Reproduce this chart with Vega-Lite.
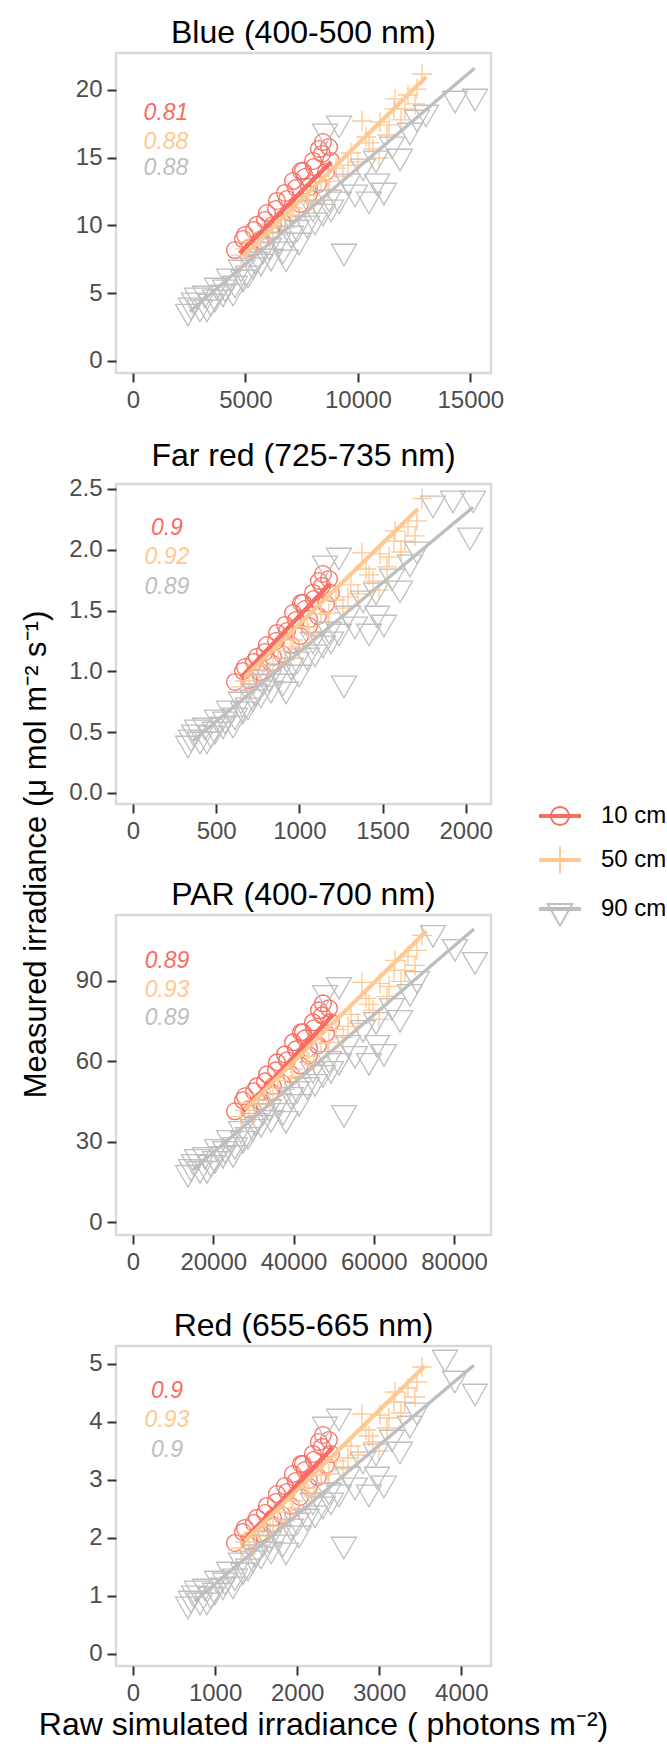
{
"$schema": "https://vega.github.io/schema/vega-lite/v6.json",
"background": "white",
"padding": {"left": 18, "top": 15, "right": 0, "bottom": 0},
"bounds": "flush",
"spacing": 111,
"resolve": {"scale": {"x": "independent", "y": "independent"}, "axis": {"x": "independent", "y": "independent"}},
"config": {
  "view": {"stroke": "#D9D9D9", "strokeWidth": 2.4},
  "font": "Liberation Sans",
  "axis": {"grid": false, "domain": false, "tickColor": "#333333", "tickWidth": 2, "tickSize": 9, "labelFontSize": 24, "labelColor": "#4D4D4D", "labelFont": "Liberation Sans", "labelFlush": false, "labelOverlap": false, "titleFont": "Liberation Sans", "titleFontSize": 31, "titleFontWeight": "normal", "titleColor": "black"},
  "axisX": {"labelPadding": 6},
  "axisY": {"labelPadding": 5},
  "title": {"fontSize": 32, "fontWeight": "normal", "font": "Liberation Sans", "color": "black", "baseline": "alphabetic", "offset": 3.5, "anchor": "middle"}
},
"datasets": {
"pts": [
{"p":"B","g":"10 cm","x":4536,"y":8.19},{"p":"B","g":"10 cm","x":4892,"y":9.00},{"p":"B","g":"10 cm","x":5159,"y":8.34},{"p":"B","g":"10 cm","x":5381,"y":9.67},{"p":"B","g":"10 cm","x":5648,"y":8.93},{"p":"B","g":"10 cm","x":5870,"y":10.41},{"p":"B","g":"10 cm","x":6137,"y":9.59},{"p":"B","g":"10 cm","x":6359,"y":11.22},{"p":"B","g":"10 cm","x":6626,"y":10.26},{"p":"B","g":"10 cm","x":6848,"y":11.96},{"p":"B","g":"10 cm","x":7026,"y":10.92},{"p":"B","g":"10 cm","x":7249,"y":12.77},{"p":"B","g":"10 cm","x":7427,"y":11.59},{"p":"B","g":"10 cm","x":7649,"y":13.58},{"p":"B","g":"10 cm","x":7827,"y":12.32},{"p":"B","g":"10 cm","x":8049,"y":14.32},{"p":"B","g":"10 cm","x":8227,"y":13.06},{"p":"B","g":"10 cm","x":8405,"y":15.28},{"p":"B","g":"10 cm","x":8583,"y":13.95},{"p":"B","g":"10 cm","x":8449,"y":16.16},{"p":"B","g":"10 cm","x":8805,"y":14.76},{"p":"B","g":"10 cm","x":7471,"y":14.02},
{"p":"B","g":"10 cm","x":4981,"y":9.30},{"p":"B","g":"10 cm","x":5514,"y":10.04},{"p":"B","g":"10 cm","x":5959,"y":10.92},{"p":"B","g":"10 cm","x":6404,"y":11.81},{"p":"B","g":"10 cm","x":6759,"y":12.40},{"p":"B","g":"10 cm","x":7115,"y":13.28},{"p":"B","g":"10 cm","x":7560,"y":14.02},{"p":"B","g":"10 cm","x":8005,"y":14.76},{"p":"B","g":"10 cm","x":8271,"y":15.65},{"p":"B","g":"10 cm","x":8716,"y":15.79},{"p":"B","g":"10 cm","x":6226,"y":10.04},{"p":"B","g":"10 cm","x":7827,"y":12.84},
{"p":"B","g":"50 cm","x":4803,"y":7.82},{"p":"B","g":"50 cm","x":5159,"y":8.78},{"p":"B","g":"50 cm","x":5425,"y":8.04},{"p":"B","g":"50 cm","x":5781,"y":9.45},{"p":"B","g":"50 cm","x":6092,"y":9.00},{"p":"B","g":"50 cm","x":6448,"y":10.48},{"p":"B","g":"50 cm","x":6759,"y":9.82},{"p":"B","g":"50 cm","x":7115,"y":11.29},{"p":"B","g":"50 cm","x":7382,"y":10.63},{"p":"B","g":"50 cm","x":7738,"y":12.25},{"p":"B","g":"50 cm","x":8049,"y":11.66},{"p":"B","g":"50 cm","x":8360,"y":13.21},{"p":"B","g":"50 cm","x":8672,"y":12.62},{"p":"B","g":"50 cm","x":9027,"y":14.24},{"p":"B","g":"50 cm","x":9339,"y":13.65},{"p":"B","g":"50 cm","x":9694,"y":15.35},{"p":"B","g":"50 cm","x":10006,"y":14.69},{"p":"B","g":"50 cm","x":10362,"y":16.53},{"p":"B","g":"50 cm","x":10673,"y":15.65},{"p":"B","g":"50 cm","x":10984,"y":17.64},{"p":"B","g":"50 cm","x":11295,"y":16.68},{"p":"B","g":"50 cm","x":11607,"y":18.60},{"p":"B","g":"50 cm","x":11918,"y":17.79},{"p":"B","g":"50 cm","x":12229,"y":19.63},{"p":"B","g":"50 cm","x":12541,"y":18.97},{"p":"B","g":"50 cm","x":12852,"y":21.18},{"p":"B","g":"50 cm","x":10940,"y":14.98},{"p":"B","g":"50 cm","x":10184,"y":17.71},
{"p":"B","g":"50 cm","x":4981,"y":8.27},{"p":"B","g":"50 cm","x":5603,"y":8.71},{"p":"B","g":"50 cm","x":6226,"y":9.45},{"p":"B","g":"50 cm","x":7026,"y":10.77},{"p":"B","g":"50 cm","x":7827,"y":11.81},{"p":"B","g":"50 cm","x":8716,"y":13.28},{"p":"B","g":"50 cm","x":9561,"y":14.46},{"p":"B","g":"50 cm","x":10495,"y":16.09},{"p":"B","g":"50 cm","x":11384,"y":17.42},{"p":"B","g":"50 cm","x":12096,"y":18.60},{"p":"B","g":"50 cm","x":12629,"y":20.07},{"p":"B","g":"50 cm","x":11651,"y":19.34},
{"p":"B","g":"90 cm","x":2446,"y":3.39},{"p":"B","g":"90 cm","x":2713,"y":4.21},{"p":"B","g":"90 cm","x":2979,"y":3.69},{"p":"B","g":"90 cm","x":3202,"y":4.72},{"p":"B","g":"90 cm","x":3469,"y":4.13},{"p":"B","g":"90 cm","x":3735,"y":5.31},{"p":"B","g":"90 cm","x":4002,"y":4.80},{"p":"B","g":"90 cm","x":4269,"y":5.98},{"p":"B","g":"90 cm","x":4536,"y":5.46},{"p":"B","g":"90 cm","x":4803,"y":6.64},{"p":"B","g":"90 cm","x":5114,"y":6.20},{"p":"B","g":"90 cm","x":5425,"y":7.23},{"p":"B","g":"90 cm","x":5781,"y":7.97},{"p":"B","g":"90 cm","x":6137,"y":7.45},{"p":"B","g":"90 cm","x":6493,"y":8.71},{"p":"B","g":"90 cm","x":6804,"y":7.38},{"p":"B","g":"90 cm","x":7026,"y":9.15},{"p":"B","g":"90 cm","x":7382,"y":8.63},{"p":"B","g":"90 cm","x":7738,"y":9.89},{"p":"B","g":"90 cm","x":8094,"y":10.11},{"p":"B","g":"90 cm","x":8449,"y":10.77},{"p":"B","g":"90 cm","x":8805,"y":11.07},{"p":"B","g":"90 cm","x":9161,"y":11.66},{"p":"B","g":"90 cm","x":9383,"y":7.82},{"p":"B","g":"90 cm","x":9561,"y":12.99},{"p":"B","g":"90 cm","x":9872,"y":12.18},{"p":"B","g":"90 cm","x":10228,"y":14.10},{"p":"B","g":"90 cm","x":10495,"y":11.66},{"p":"B","g":"90 cm","x":10806,"y":14.69},{"p":"B","g":"90 cm","x":11162,"y":12.32},{"p":"B","g":"90 cm","x":11518,"y":15.72},{"p":"B","g":"90 cm","x":11873,"y":14.83},{"p":"B","g":"90 cm","x":12318,"y":16.75},{"p":"B","g":"90 cm","x":12629,"y":17.71},{"p":"B","g":"90 cm","x":9161,"y":17.27},{"p":"B","g":"90 cm","x":8538,"y":16.68},{"p":"B","g":"90 cm","x":14319,"y":19.11},{"p":"B","g":"90 cm","x":15209,"y":19.26},{"p":"B","g":"90 cm","x":13030,"y":18.08},
{"p":"B","g":"90 cm","x":2579,"y":3.84},{"p":"B","g":"90 cm","x":2846,"y":4.58},{"p":"B","g":"90 cm","x":3291,"y":3.69},{"p":"B","g":"90 cm","x":3647,"y":4.43},{"p":"B","g":"90 cm","x":4091,"y":5.17},{"p":"B","g":"90 cm","x":4447,"y":4.87},{"p":"B","g":"90 cm","x":4892,"y":5.90},{"p":"B","g":"90 cm","x":5336,"y":6.79},{"p":"B","g":"90 cm","x":5692,"y":7.08},{"p":"B","g":"90 cm","x":6048,"y":8.27},{"p":"B","g":"90 cm","x":6671,"y":7.97},{"p":"B","g":"90 cm","x":7293,"y":9.59},{"p":"B","g":"90 cm","x":8005,"y":11.07},{"p":"B","g":"90 cm","x":8716,"y":11.81},{"p":"B","g":"90 cm","x":10851,"y":12.99},
{"p":"F","g":"10 cm","x":613,"y":0.913},{"p":"F","g":"10 cm","x":661,"y":1.003},{"p":"F","g":"10 cm","x":697,"y":0.929},{"p":"F","g":"10 cm","x":727,"y":1.077},{"p":"F","g":"10 cm","x":763,"y":0.995},{"p":"F","g":"10 cm","x":793,"y":1.160},{"p":"F","g":"10 cm","x":830,"y":1.069},{"p":"F","g":"10 cm","x":860,"y":1.250},{"p":"F","g":"10 cm","x":896,"y":1.143},{"p":"F","g":"10 cm","x":926,"y":1.332},{"p":"F","g":"10 cm","x":950,"y":1.217},{"p":"F","g":"10 cm","x":980,"y":1.423},{"p":"F","g":"10 cm","x":1004,"y":1.291},{"p":"F","g":"10 cm","x":1034,"y":1.513},{"p":"F","g":"10 cm","x":1058,"y":1.373},{"p":"F","g":"10 cm","x":1088,"y":1.595},{"p":"F","g":"10 cm","x":1112,"y":1.456},{"p":"F","g":"10 cm","x":1136,"y":1.702},{"p":"F","g":"10 cm","x":1160,"y":1.554},{"p":"F","g":"10 cm","x":1142,"y":1.801},{"p":"F","g":"10 cm","x":1190,"y":1.645},{"p":"F","g":"10 cm","x":1010,"y":1.563},
{"p":"F","g":"10 cm","x":673,"y":1.036},{"p":"F","g":"10 cm","x":745,"y":1.118},{"p":"F","g":"10 cm","x":805,"y":1.217},{"p":"F","g":"10 cm","x":866,"y":1.316},{"p":"F","g":"10 cm","x":914,"y":1.382},{"p":"F","g":"10 cm","x":962,"y":1.480},{"p":"F","g":"10 cm","x":1022,"y":1.563},{"p":"F","g":"10 cm","x":1082,"y":1.645},{"p":"F","g":"10 cm","x":1118,"y":1.743},{"p":"F","g":"10 cm","x":1178,"y":1.760},{"p":"F","g":"10 cm","x":842,"y":1.118},{"p":"F","g":"10 cm","x":1058,"y":1.431},
{"p":"F","g":"50 cm","x":649,"y":0.872},{"p":"F","g":"50 cm","x":697,"y":0.979},{"p":"F","g":"50 cm","x":733,"y":0.896},{"p":"F","g":"50 cm","x":781,"y":1.053},{"p":"F","g":"50 cm","x":824,"y":1.003},{"p":"F","g":"50 cm","x":872,"y":1.168},{"p":"F","g":"50 cm","x":914,"y":1.094},{"p":"F","g":"50 cm","x":962,"y":1.258},{"p":"F","g":"50 cm","x":998,"y":1.184},{"p":"F","g":"50 cm","x":1046,"y":1.365},{"p":"F","g":"50 cm","x":1088,"y":1.299},{"p":"F","g":"50 cm","x":1130,"y":1.472},{"p":"F","g":"50 cm","x":1172,"y":1.406},{"p":"F","g":"50 cm","x":1220,"y":1.587},{"p":"F","g":"50 cm","x":1262,"y":1.521},{"p":"F","g":"50 cm","x":1310,"y":1.711},{"p":"F","g":"50 cm","x":1352,"y":1.637},{"p":"F","g":"50 cm","x":1401,"y":1.842},{"p":"F","g":"50 cm","x":1443,"y":1.743},{"p":"F","g":"50 cm","x":1485,"y":1.966},{"p":"F","g":"50 cm","x":1527,"y":1.859},{"p":"F","g":"50 cm","x":1569,"y":2.072},{"p":"F","g":"50 cm","x":1611,"y":1.982},{"p":"F","g":"50 cm","x":1653,"y":2.188},{"p":"F","g":"50 cm","x":1695,"y":2.114},{"p":"F","g":"50 cm","x":1737,"y":2.42},{"p":"F","g":"50 cm","x":1479,"y":1.669},{"p":"F","g":"50 cm","x":1377,"y":1.974},
{"p":"F","g":"50 cm","x":673,"y":0.921},{"p":"F","g":"50 cm","x":757,"y":0.970},{"p":"F","g":"50 cm","x":842,"y":1.053},{"p":"F","g":"50 cm","x":950,"y":1.201},{"p":"F","g":"50 cm","x":1058,"y":1.316},{"p":"F","g":"50 cm","x":1178,"y":1.480},{"p":"F","g":"50 cm","x":1292,"y":1.612},{"p":"F","g":"50 cm","x":1419,"y":1.793},{"p":"F","g":"50 cm","x":1539,"y":1.941},{"p":"F","g":"50 cm","x":1635,"y":2.072},{"p":"F","g":"50 cm","x":1707,"y":2.237},{"p":"F","g":"50 cm","x":1575,"y":2.155},
{"p":"F","g":"90 cm","x":331,"y":0.378},{"p":"F","g":"90 cm","x":367,"y":0.469},{"p":"F","g":"90 cm","x":403,"y":0.411},{"p":"F","g":"90 cm","x":433,"y":0.526},{"p":"F","g":"90 cm","x":469,"y":0.461},{"p":"F","g":"90 cm","x":505,"y":0.592},{"p":"F","g":"90 cm","x":541,"y":0.535},{"p":"F","g":"90 cm","x":577,"y":0.666},{"p":"F","g":"90 cm","x":613,"y":0.609},{"p":"F","g":"90 cm","x":649,"y":0.740},{"p":"F","g":"90 cm","x":691,"y":0.691},{"p":"F","g":"90 cm","x":733,"y":0.806},{"p":"F","g":"90 cm","x":781,"y":0.888},{"p":"F","g":"90 cm","x":830,"y":0.831},{"p":"F","g":"90 cm","x":878,"y":0.970},{"p":"F","g":"90 cm","x":920,"y":0.822},{"p":"F","g":"90 cm","x":950,"y":1.020},{"p":"F","g":"90 cm","x":998,"y":0.962},{"p":"F","g":"90 cm","x":1046,"y":1.102},{"p":"F","g":"90 cm","x":1094,"y":1.127},{"p":"F","g":"90 cm","x":1142,"y":1.201},{"p":"F","g":"90 cm","x":1190,"y":1.234},{"p":"F","g":"90 cm","x":1238,"y":1.299},{"p":"F","g":"90 cm","x":1268,"y":0.872},{"p":"F","g":"90 cm","x":1292,"y":1.447},{"p":"F","g":"90 cm","x":1334,"y":1.357},{"p":"F","g":"90 cm","x":1383,"y":1.571},{"p":"F","g":"90 cm","x":1419,"y":1.299},{"p":"F","g":"90 cm","x":1461,"y":1.637},{"p":"F","g":"90 cm","x":1509,"y":1.373},{"p":"F","g":"90 cm","x":1557,"y":1.752},{"p":"F","g":"90 cm","x":1605,"y":1.653},{"p":"F","g":"90 cm","x":1665,"y":1.867},{"p":"F","g":"90 cm","x":1707,"y":1.974},{"p":"F","g":"90 cm","x":1238,"y":1.924},{"p":"F","g":"90 cm","x":1154,"y":1.859},{"p":"F","g":"90 cm","x":1803,"y":2.352},{"p":"F","g":"90 cm","x":1923,"y":2.393},{"p":"F","g":"90 cm","x":2044,"y":2.393},{"p":"F","g":"90 cm","x":2026,"y":2.089},
{"p":"F","g":"90 cm","x":349,"y":0.428},{"p":"F","g":"90 cm","x":385,"y":0.510},{"p":"F","g":"90 cm","x":445,"y":0.411},{"p":"F","g":"90 cm","x":493,"y":0.493},{"p":"F","g":"90 cm","x":553,"y":0.576},{"p":"F","g":"90 cm","x":601,"y":0.543},{"p":"F","g":"90 cm","x":661,"y":0.658},{"p":"F","g":"90 cm","x":721,"y":0.757},{"p":"F","g":"90 cm","x":769,"y":0.790},{"p":"F","g":"90 cm","x":818,"y":0.921},{"p":"F","g":"90 cm","x":902,"y":0.888},{"p":"F","g":"90 cm","x":986,"y":1.069},{"p":"F","g":"90 cm","x":1082,"y":1.234},{"p":"F","g":"90 cm","x":1178,"y":1.316},{"p":"F","g":"90 cm","x":1467,"y":1.447},
{"p":"P","g":"10 cm","x":25418,"y":41.35},{"p":"P","g":"10 cm","x":27412,"y":45.45},{"p":"P","g":"10 cm","x":28907,"y":42.09},{"p":"P","g":"10 cm","x":30153,"y":48.80},{"p":"P","g":"10 cm","x":31648,"y":45.07},{"p":"P","g":"10 cm","x":32894,"y":52.52},{"p":"P","g":"10 cm","x":34390,"y":48.43},{"p":"P","g":"10 cm","x":35636,"y":56.62},{"p":"P","g":"10 cm","x":37131,"y":51.78},{"p":"P","g":"10 cm","x":38377,"y":60.35},{"p":"P","g":"10 cm","x":39374,"y":55.13},{"p":"P","g":"10 cm","x":40620,"y":64.44},{"p":"P","g":"10 cm","x":41616,"y":58.48},{"p":"P","g":"10 cm","x":42862,"y":68.54},{"p":"P","g":"10 cm","x":43859,"y":62.21},{"p":"P","g":"10 cm","x":45105,"y":72.27},{"p":"P","g":"10 cm","x":46102,"y":65.93},{"p":"P","g":"10 cm","x":47099,"y":77.11},{"p":"P","g":"10 cm","x":48096,"y":70.40},{"p":"P","g":"10 cm","x":47348,"y":81.58},{"p":"P","g":"10 cm","x":49342,"y":74.50},{"p":"P","g":"10 cm","x":41866,"y":70.78},
{"p":"P","g":"10 cm","x":27910,"y":46.94},{"p":"P","g":"10 cm","x":30901,"y":50.66},{"p":"P","g":"10 cm","x":33393,"y":55.13},{"p":"P","g":"10 cm","x":35885,"y":59.60},{"p":"P","g":"10 cm","x":37878,"y":62.58},{"p":"P","g":"10 cm","x":39872,"y":67.05},{"p":"P","g":"10 cm","x":42364,"y":70.78},{"p":"P","g":"10 cm","x":44856,"y":74.50},{"p":"P","g":"10 cm","x":46351,"y":78.97},{"p":"P","g":"10 cm","x":48843,"y":79.72},{"p":"P","g":"10 cm","x":34888,"y":50.66},{"p":"P","g":"10 cm","x":43859,"y":64.82},
{"p":"P","g":"50 cm","x":26914,"y":39.49},{"p":"P","g":"50 cm","x":28907,"y":44.33},{"p":"P","g":"50 cm","x":30402,"y":40.60},{"p":"P","g":"50 cm","x":32396,"y":47.68},{"p":"P","g":"50 cm","x":34140,"y":45.45},{"p":"P","g":"50 cm","x":36134,"y":52.90},{"p":"P","g":"50 cm","x":37878,"y":49.54},{"p":"P","g":"50 cm","x":39872,"y":56.99},{"p":"P","g":"50 cm","x":41367,"y":53.64},{"p":"P","g":"50 cm","x":43361,"y":61.84},{"p":"P","g":"50 cm","x":45105,"y":58.86},{"p":"P","g":"50 cm","x":46850,"y":66.68},{"p":"P","g":"50 cm","x":48594,"y":63.70},{"p":"P","g":"50 cm","x":50588,"y":71.89},{"p":"P","g":"50 cm","x":52332,"y":68.91},{"p":"P","g":"50 cm","x":54326,"y":77.48},{"p":"P","g":"50 cm","x":56070,"y":74.13},{"p":"P","g":"50 cm","x":58064,"y":83.44},{"p":"P","g":"50 cm","x":59808,"y":78.97},{"p":"P","g":"50 cm","x":61552,"y":89.03},{"p":"P","g":"50 cm","x":63297,"y":84.19},{"p":"P","g":"50 cm","x":65041,"y":93.87},{"p":"P","g":"50 cm","x":66786,"y":89.77},{"p":"P","g":"50 cm","x":68530,"y":99.09},{"p":"P","g":"50 cm","x":70274,"y":95.73},{"p":"P","g":"50 cm","x":72019,"y":106.91},{"p":"P","g":"50 cm","x":61303,"y":75.62},{"p":"P","g":"50 cm","x":57067,"y":89.40},
{"p":"P","g":"50 cm","x":27910,"y":41.72},{"p":"P","g":"50 cm","x":31399,"y":43.96},{"p":"P","g":"50 cm","x":34888,"y":47.68},{"p":"P","g":"50 cm","x":39374,"y":54.39},{"p":"P","g":"50 cm","x":43859,"y":59.60},{"p":"P","g":"50 cm","x":48843,"y":67.05},{"p":"P","g":"50 cm","x":53578,"y":73.01},{"p":"P","g":"50 cm","x":58811,"y":81.21},{"p":"P","g":"50 cm","x":63795,"y":87.91},{"p":"P","g":"50 cm","x":67782,"y":93.87},{"p":"P","g":"50 cm","x":70773,"y":101.32},{"p":"P","g":"50 cm","x":65290,"y":97.60},
{"p":"P","g":"90 cm","x":13706,"y":17.14},{"p":"P","g":"90 cm","x":15201,"y":21.23},{"p":"P","g":"90 cm","x":16696,"y":18.63},{"p":"P","g":"90 cm","x":17942,"y":23.84},{"p":"P","g":"90 cm","x":19438,"y":20.86},{"p":"P","g":"90 cm","x":20933,"y":26.82},{"p":"P","g":"90 cm","x":22428,"y":24.21},{"p":"P","g":"90 cm","x":23923,"y":30.17},{"p":"P","g":"90 cm","x":25418,"y":27.57},{"p":"P","g":"90 cm","x":26914,"y":33.53},{"p":"P","g":"90 cm","x":28658,"y":31.29},{"p":"P","g":"90 cm","x":30402,"y":36.51},{"p":"P","g":"90 cm","x":32396,"y":40.23},{"p":"P","g":"90 cm","x":34390,"y":37.62},{"p":"P","g":"90 cm","x":36383,"y":43.96},{"p":"P","g":"90 cm","x":38128,"y":37.25},{"p":"P","g":"90 cm","x":39374,"y":46.19},{"p":"P","g":"90 cm","x":41367,"y":43.58},{"p":"P","g":"90 cm","x":43361,"y":49.92},{"p":"P","g":"90 cm","x":45354,"y":51.03},{"p":"P","g":"90 cm","x":47348,"y":54.39},{"p":"P","g":"90 cm","x":49342,"y":55.88},{"p":"P","g":"90 cm","x":51335,"y":58.86},{"p":"P","g":"90 cm","x":52581,"y":39.49},{"p":"P","g":"90 cm","x":53578,"y":65.56},{"p":"P","g":"90 cm","x":55322,"y":61.46},{"p":"P","g":"90 cm","x":57316,"y":71.15},{"p":"P","g":"90 cm","x":58811,"y":58.86},{"p":"P","g":"90 cm","x":60556,"y":74.13},{"p":"P","g":"90 cm","x":62549,"y":62.21},{"p":"P","g":"90 cm","x":64543,"y":79.34},{"p":"P","g":"90 cm","x":66536,"y":74.87},{"p":"P","g":"90 cm","x":69028,"y":84.56},{"p":"P","g":"90 cm","x":70773,"y":89.40},{"p":"P","g":"90 cm","x":51335,"y":87.17},{"p":"P","g":"90 cm","x":47846,"y":84.19},{"p":"P","g":"90 cm","x":74760,"y":106.54},{"p":"P","g":"90 cm","x":80242,"y":101.32},{"p":"P","g":"90 cm","x":85226,"y":96.48},
{"p":"P","g":"90 cm","x":14454,"y":19.37},{"p":"P","g":"90 cm","x":15949,"y":23.10},{"p":"P","g":"90 cm","x":18441,"y":18.63},{"p":"P","g":"90 cm","x":20434,"y":22.35},{"p":"P","g":"90 cm","x":22926,"y":26.08},{"p":"P","g":"90 cm","x":24920,"y":24.59},{"p":"P","g":"90 cm","x":27412,"y":29.80},{"p":"P","g":"90 cm","x":29904,"y":34.27},{"p":"P","g":"90 cm","x":31898,"y":35.76},{"p":"P","g":"90 cm","x":33891,"y":41.72},{"p":"P","g":"90 cm","x":37380,"y":40.23},{"p":"P","g":"90 cm","x":40869,"y":48.43},{"p":"P","g":"90 cm","x":44856,"y":55.88},{"p":"P","g":"90 cm","x":48843,"y":59.60},{"p":"P","g":"90 cm","x":60805,"y":65.56},
{"p":"R","g":"10 cm","x":1242,"y":1.914},{"p":"R","g":"10 cm","x":1340,"y":2.103},{"p":"R","g":"10 cm","x":1413,"y":1.948},{"p":"R","g":"10 cm","x":1474,"y":2.258},{"p":"R","g":"10 cm","x":1547,"y":2.086},{"p":"R","g":"10 cm","x":1608,"y":2.431},{"p":"R","g":"10 cm","x":1681,"y":2.241},{"p":"R","g":"10 cm","x":1742,"y":2.620},{"p":"R","g":"10 cm","x":1815,"y":2.396},{"p":"R","g":"10 cm","x":1876,"y":2.793},{"p":"R","g":"10 cm","x":1924,"y":2.552},{"p":"R","g":"10 cm","x":1985,"y":2.983},{"p":"R","g":"10 cm","x":2034,"y":2.707},{"p":"R","g":"10 cm","x":2095,"y":3.172},{"p":"R","g":"10 cm","x":2144,"y":2.879},{"p":"R","g":"10 cm","x":2205,"y":3.345},{"p":"R","g":"10 cm","x":2253,"y":3.051},{"p":"R","g":"10 cm","x":2302,"y":3.569},{"p":"R","g":"10 cm","x":2351,"y":3.258},{"p":"R","g":"10 cm","x":2314,"y":3.776},{"p":"R","g":"10 cm","x":2412,"y":3.448},{"p":"R","g":"10 cm","x":2046,"y":3.276},
{"p":"R","g":"10 cm","x":1364,"y":2.172},{"p":"R","g":"10 cm","x":1510,"y":2.345},{"p":"R","g":"10 cm","x":1632,"y":2.552},{"p":"R","g":"10 cm","x":1754,"y":2.758},{"p":"R","g":"10 cm","x":1851,"y":2.896},{"p":"R","g":"10 cm","x":1949,"y":3.103},{"p":"R","g":"10 cm","x":2071,"y":3.276},{"p":"R","g":"10 cm","x":2192,"y":3.448},{"p":"R","g":"10 cm","x":2265,"y":3.655},{"p":"R","g":"10 cm","x":2387,"y":3.689},{"p":"R","g":"10 cm","x":1705,"y":2.345},{"p":"R","g":"10 cm","x":2144,"y":3.000},
{"p":"R","g":"50 cm","x":1315,"y":1.827},{"p":"R","g":"50 cm","x":1413,"y":2.052},{"p":"R","g":"50 cm","x":1486,"y":1.879},{"p":"R","g":"50 cm","x":1583,"y":2.207},{"p":"R","g":"50 cm","x":1669,"y":2.103},{"p":"R","g":"50 cm","x":1766,"y":2.448},{"p":"R","g":"50 cm","x":1851,"y":2.293},{"p":"R","g":"50 cm","x":1949,"y":2.638},{"p":"R","g":"50 cm","x":2022,"y":2.483},{"p":"R","g":"50 cm","x":2119,"y":2.862},{"p":"R","g":"50 cm","x":2205,"y":2.724},{"p":"R","g":"50 cm","x":2290,"y":3.086},{"p":"R","g":"50 cm","x":2375,"y":2.948},{"p":"R","g":"50 cm","x":2473,"y":3.327},{"p":"R","g":"50 cm","x":2558,"y":3.189},{"p":"R","g":"50 cm","x":2655,"y":3.586},{"p":"R","g":"50 cm","x":2741,"y":3.431},{"p":"R","g":"50 cm","x":2838,"y":3.862},{"p":"R","g":"50 cm","x":2923,"y":3.655},{"p":"R","g":"50 cm","x":3008,"y":4.120},{"p":"R","g":"50 cm","x":3094,"y":3.896},{"p":"R","g":"50 cm","x":3179,"y":4.344},{"p":"R","g":"50 cm","x":3264,"y":4.155},{"p":"R","g":"50 cm","x":3350,"y":4.586},{"p":"R","g":"50 cm","x":3435,"y":4.431},{"p":"R","g":"50 cm","x":3520,"y":4.948},{"p":"R","g":"50 cm","x":2996,"y":3.500},{"p":"R","g":"50 cm","x":2789,"y":4.138},
{"p":"R","g":"50 cm","x":1364,"y":1.931},{"p":"R","g":"50 cm","x":1535,"y":2.034},{"p":"R","g":"50 cm","x":1705,"y":2.207},{"p":"R","g":"50 cm","x":1924,"y":2.517},{"p":"R","g":"50 cm","x":2144,"y":2.758},{"p":"R","g":"50 cm","x":2387,"y":3.103},{"p":"R","g":"50 cm","x":2619,"y":3.379},{"p":"R","g":"50 cm","x":2874,"y":3.758},{"p":"R","g":"50 cm","x":3118,"y":4.069},{"p":"R","g":"50 cm","x":3313,"y":4.344},{"p":"R","g":"50 cm","x":3459,"y":4.689},{"p":"R","g":"50 cm","x":3191,"y":4.517},
{"p":"R","g":"90 cm","x":670,"y":0.793},{"p":"R","g":"90 cm","x":743,"y":0.983},{"p":"R","g":"90 cm","x":816,"y":0.862},{"p":"R","g":"90 cm","x":877,"y":1.103},{"p":"R","g":"90 cm","x":950,"y":0.965},{"p":"R","g":"90 cm","x":1023,"y":1.241},{"p":"R","g":"90 cm","x":1096,"y":1.121},{"p":"R","g":"90 cm","x":1169,"y":1.396},{"p":"R","g":"90 cm","x":1242,"y":1.276},{"p":"R","g":"90 cm","x":1315,"y":1.552},{"p":"R","g":"90 cm","x":1401,"y":1.448},{"p":"R","g":"90 cm","x":1486,"y":1.690},{"p":"R","g":"90 cm","x":1583,"y":1.862},{"p":"R","g":"90 cm","x":1681,"y":1.741},{"p":"R","g":"90 cm","x":1778,"y":2.034},{"p":"R","g":"90 cm","x":1864,"y":1.724},{"p":"R","g":"90 cm","x":1924,"y":2.138},{"p":"R","g":"90 cm","x":2022,"y":2.017},{"p":"R","g":"90 cm","x":2119,"y":2.310},{"p":"R","g":"90 cm","x":2217,"y":2.362},{"p":"R","g":"90 cm","x":2314,"y":2.517},{"p":"R","g":"90 cm","x":2412,"y":2.586},{"p":"R","g":"90 cm","x":2509,"y":2.724},{"p":"R","g":"90 cm","x":2570,"y":1.827},{"p":"R","g":"90 cm","x":2619,"y":3.034},{"p":"R","g":"90 cm","x":2704,"y":2.845},{"p":"R","g":"90 cm","x":2801,"y":3.293},{"p":"R","g":"90 cm","x":2874,"y":2.724},{"p":"R","g":"90 cm","x":2960,"y":3.431},{"p":"R","g":"90 cm","x":3057,"y":2.879},{"p":"R","g":"90 cm","x":3155,"y":3.672},{"p":"R","g":"90 cm","x":3252,"y":3.465},{"p":"R","g":"90 cm","x":3374,"y":3.913},{"p":"R","g":"90 cm","x":3459,"y":4.138},{"p":"R","g":"90 cm","x":2509,"y":4.034},{"p":"R","g":"90 cm","x":2339,"y":3.896},{"p":"R","g":"90 cm","x":3800,"y":5.051},{"p":"R","g":"90 cm","x":3922,"y":4.689},{"p":"R","g":"90 cm","x":4166,"y":4.465},
{"p":"R","g":"90 cm","x":706,"y":0.896},{"p":"R","g":"90 cm","x":780,"y":1.069},{"p":"R","g":"90 cm","x":901,"y":0.862},{"p":"R","g":"90 cm","x":999,"y":1.034},{"p":"R","g":"90 cm","x":1121,"y":1.207},{"p":"R","g":"90 cm","x":1218,"y":1.138},{"p":"R","g":"90 cm","x":1340,"y":1.379},{"p":"R","g":"90 cm","x":1462,"y":1.586},{"p":"R","g":"90 cm","x":1559,"y":1.655},{"p":"R","g":"90 cm","x":1656,"y":1.931},{"p":"R","g":"90 cm","x":1827,"y":1.862},{"p":"R","g":"90 cm","x":1998,"y":2.241},{"p":"R","g":"90 cm","x":2192,"y":2.586},{"p":"R","g":"90 cm","x":2387,"y":2.758},{"p":"R","g":"90 cm","x":2972,"y":3.034}
],
"lines": [
{"p":"B","g":"10 cm","x":4741,"y":7.95},{"p":"B","g":"10 cm","x":8815,"y":14.7},
{"p":"B","g":"50 cm","x":4889,"y":7.7},{"p":"B","g":"50 cm","x":13037,"y":20.95},
{"p":"B","g":"90 cm","x":2519,"y":3.64},{"p":"B","g":"90 cm","x":15185,"y":21.6},
{"p":"F","g":"10 cm","x":651,"y":0.952},{"p":"F","g":"10 cm","x":1182,"y":1.719},
{"p":"F","g":"50 cm","x":671,"y":0.952},{"p":"F","g":"50 cm","x":1713,"y":2.336},
{"p":"F","g":"90 cm","x":361,"y":0.430},{"p":"F","g":"90 cm","x":2044,"y":2.350},
{"p":"P","g":"10 cm","x":27412,"y":41.35},{"p":"P","g":"10 cm","x":49840,"y":77.33},
{"p":"P","g":"50 cm","x":27836,"y":41.94},{"p":"P","g":"50 cm","x":73090,"y":108.4},
{"p":"P","g":"90 cm","x":14952,"y":19.59},{"p":"P","g":"90 cm","x":84977,"y":109.3},
{"p":"R","g":"10 cm","x":1340,"y":1.943},{"p":"R","g":"10 cm","x":2436,"y":3.564},
{"p":"R","g":"50 cm","x":1360,"y":1.943},{"p":"R","g":"50 cm","x":3553,"y":4.960},
{"p":"R","g":"90 cm","x":751.5,"y":0.909},{"p":"R","g":"90 cm","x":4153,"y":4.977}
],
"labels": [
{"p":"B","g":"10 cm","t":"0.81","x":1467,"y":18.28},{"p":"B","g":"50 cm","t":"0.88","x":1467,"y":16.18},{"p":"B","g":"90 cm","t":"0.88","x":1467,"y":14.22},
{"p":"F","g":"10 cm","t":"0.9","x":204,"y":2.177},{"p":"F","g":"50 cm","t":"0.92","x":204,"y":1.938},{"p":"F","g":"90 cm","t":"0.89","x":204,"y":1.692},
{"p":"P","g":"10 cm","t":"0.89","x":8473,"y":97.45},{"p":"P","g":"50 cm","t":"0.93","x":8473,"y":86.64},{"p":"P","g":"90 cm","t":"0.89","x":8473,"y":76.1},
{"p":"R","g":"10 cm","t":"0.9","x":414,"y":4.539},{"p":"R","g":"50 cm","t":"0.93","x":414,"y":4.039},{"p":"R","g":"90 cm","t":"0.9","x":414,"y":3.522}
]
},
"vconcat": [
{
 "title": "Blue (400-500 nm)",
 "width": 375, "height": 320,
 "encoding": {
  "x": {"field": "x", "type": "quantitative", "scale": {"domain": [-756, 15920], "nice": false, "zero": false}, "axis": {"values": [0, 5000, 10000, 15000], "format": "d", "title": null}},
  "y": {"field": "y", "type": "quantitative", "scale": {"domain": [-0.886, 22.73], "nice": false, "zero": false}, "axis": {"values": [0, 5, 10, 15, 20], "format": "d", "title": null}}
 },
 "layer": [
  {"data": {"name": "pts"}, "transform": [{"filter": "datum.p=='B' && datum.g=='10 cm'"}], "mark": {"type": "point", "shape": "circle", "filled": false, "opacity": 1, "size": 280, "strokeWidth": 1.3, "color": "#FA6B61"}},
  {"data": {"name": "pts"}, "transform": [{"filter": "datum.p=='B' && datum.g=='50 cm'"}], "mark": {"type": "point", "shape": "M-1,0L1,0M0,-1L0,1", "filled": false, "opacity": 1, "size": 400, "strokeWidth": 1.3, "color": "#FFC891"}},
  {"data": {"name": "pts"}, "transform": [{"filter": "datum.p=='B' && datum.g=='90 cm'"}], "mark": {"type": "point", "shape": "triangle-down", "filled": false, "opacity": 1, "size": 620, "strokeWidth": 1.3, "color": "#BEBEBE"}},
  {"data": {"name": "lines"}, "transform": [{"filter": "datum.p=='B' && datum.g=='10 cm'"}], "mark": {"type": "line", "color": "#FA6B61", "strokeWidth": 4.5}, "encoding": {}},
  {"data": {"name": "lines"}, "transform": [{"filter": "datum.p=='B' && datum.g=='50 cm'"}], "mark": {"type": "line", "color": "#FFC891", "strokeWidth": 4.2}, "encoding": {}},
  {"data": {"name": "lines"}, "transform": [{"filter": "datum.p=='B' && datum.g=='90 cm'"}], "mark": {"type": "line", "color": "#BEBEBE", "strokeWidth": 3.4}, "encoding": {}},
  {"data": {"name": "labels"}, "transform": [{"filter": "datum.p=='B' && datum.g=='10 cm'"}], "mark": {"type": "text", "fontStyle": "italic", "fontSize": 23, "font": "Liberation Sans", "align": "center", "baseline": "middle", "color": "#FA6B61"}, "encoding": {"text": {"field": "t", "type": "nominal"}}},
  {"data": {"name": "labels"}, "transform": [{"filter": "datum.p=='B' && datum.g=='50 cm'"}], "mark": {"type": "text", "fontStyle": "italic", "fontSize": 23, "font": "Liberation Sans", "align": "center", "baseline": "middle", "color": "#FFC891"}, "encoding": {"text": {"field": "t", "type": "nominal"}}},
  {"data": {"name": "labels"}, "transform": [{"filter": "datum.p=='B' && datum.g=='90 cm'"}], "mark": {"type": "text", "fontStyle": "italic", "fontSize": 23, "font": "Liberation Sans", "align": "center", "baseline": "middle", "color": "#BEBEBE"}, "encoding": {"text": {"field": "t", "type": "nominal"}}},
  {"data": {"name": "lines"}, "transform": [{"filter": "datum.p=='B'"}], "mark": {"type": "point", "filled": false, "opacity": 0},
   "encoding": {
    "color": {"field": "g", "type": "nominal", "scale": {"domain": ["10 cm", "50 cm", "90 cm"], "range": ["#FA6B61", "#FFC891", "#BEBEBE"]}, "legend": {"title": null, "orient": "none", "legendX": 423, "legendY": 742, "symbolSize": 1600, "symbolStrokeWidth": 1.8, "symbolOpacity": 1, "labelFontSize": 24, "labelFont": "Liberation Sans", "labelColor": "black", "labelOffset": 20, "rowPadding": 10, "padding": 0}},
    "shape": {"field": "g", "type": "nominal", "scale": {"domain": ["10 cm", "50 cm", "90 cm"], "range": ["M-1,-0.05L1,-0.05L1,0.05L-1,0.05Z M0.45,0C0.45,0.2485 0.2485,0.45 0,0.45C-0.2485,0.45 -0.45,0.2485 -0.45,0C-0.45,-0.2485 -0.2485,-0.45 0,-0.45C0.2485,-0.45 0.45,-0.2485 0.45,0Z", "M-1,-0.05L1,-0.05L1,0.05L-1,0.05Z M0,-0.7L0,0.7", "M-1,-0.05L1,-0.05L1,0.05L-1,0.05Z M-0.62,-0.25L0.62,-0.25L0,0.83Z"]}, "legend": {"title": null, "orient": "none", "legendX": 423, "legendY": 742, "symbolSize": 1600, "symbolStrokeWidth": 1.8, "symbolOpacity": 1, "labelFontSize": 24, "labelFont": "Liberation Sans", "labelColor": "black", "labelOffset": 20, "rowPadding": 10, "padding": 0}}
   }}
 ]
},
{
 "title": "Far red (725-735 nm)",
 "width": 375, "height": 320,
 "encoding": {
  "x": {"field": "x", "type": "quantitative", "scale": {"domain": [-102, 2152], "nice": false, "zero": false}, "axis": {"values": [0, 500, 1000, 1500, 2000], "format": "d", "title": null}},
  "y": {"field": "y", "type": "quantitative", "scale": {"domain": [-0.0905, 2.541], "nice": false, "zero": false}, "axis": {"values": [0, 0.5, 1, 1.5, 2, 2.5], "format": ".1f", "title": "Measured irradiance (μ mol m⁻² s⁻¹)", "titleX": -71, "titleY": 370, "titleAngle": -90, "titleAlign": "center", "titleBaseline": "alphabetic"}}
 },
 "layer": [
  {"data": {"name": "pts"}, "transform": [{"filter": "datum.p=='F' && datum.g=='10 cm'"}], "mark": {"type": "point", "shape": "circle", "filled": false, "opacity": 1, "size": 280, "strokeWidth": 1.3, "color": "#FA6B61"}},
  {"data": {"name": "pts"}, "transform": [{"filter": "datum.p=='F' && datum.g=='50 cm'"}], "mark": {"type": "point", "shape": "M-1,0L1,0M0,-1L0,1", "filled": false, "opacity": 1, "size": 400, "strokeWidth": 1.3, "color": "#FFC891"}},
  {"data": {"name": "pts"}, "transform": [{"filter": "datum.p=='F' && datum.g=='90 cm'"}], "mark": {"type": "point", "shape": "triangle-down", "filled": false, "opacity": 1, "size": 620, "strokeWidth": 1.3, "color": "#BEBEBE"}},
  {"data": {"name": "lines"}, "transform": [{"filter": "datum.p=='F' && datum.g=='10 cm'"}], "mark": {"type": "line", "color": "#FA6B61", "strokeWidth": 4.5}, "encoding": {}},
  {"data": {"name": "lines"}, "transform": [{"filter": "datum.p=='F' && datum.g=='50 cm'"}], "mark": {"type": "line", "color": "#FFC891", "strokeWidth": 4.2}, "encoding": {}},
  {"data": {"name": "lines"}, "transform": [{"filter": "datum.p=='F' && datum.g=='90 cm'"}], "mark": {"type": "line", "color": "#BEBEBE", "strokeWidth": 3.4}, "encoding": {}},
  {"data": {"name": "labels"}, "transform": [{"filter": "datum.p=='F' && datum.g=='10 cm'"}], "mark": {"type": "text", "fontStyle": "italic", "fontSize": 23, "font": "Liberation Sans", "align": "center", "baseline": "middle", "color": "#FA6B61"}, "encoding": {"text": {"field": "t", "type": "nominal"}}},
  {"data": {"name": "labels"}, "transform": [{"filter": "datum.p=='F' && datum.g=='50 cm'"}], "mark": {"type": "text", "fontStyle": "italic", "fontSize": 23, "font": "Liberation Sans", "align": "center", "baseline": "middle", "color": "#FFC891"}, "encoding": {"text": {"field": "t", "type": "nominal"}}},
  {"data": {"name": "labels"}, "transform": [{"filter": "datum.p=='F' && datum.g=='90 cm'"}], "mark": {"type": "text", "fontStyle": "italic", "fontSize": 23, "font": "Liberation Sans", "align": "center", "baseline": "middle", "color": "#BEBEBE"}, "encoding": {"text": {"field": "t", "type": "nominal"}}}
 ]
},
{
 "title": "PAR (400-700 nm)",
 "width": 375, "height": 320,
 "encoding": {
  "x": {"field": "x", "type": "quantitative", "scale": {"domain": [-4237, 89218], "nice": false, "zero": false}, "axis": {"values": [0, 20000, 40000, 60000, 80000], "format": "d", "title": null}},
  "y": {"field": "y", "type": "quantitative", "scale": {"domain": [-4.73, 114.5], "nice": false, "zero": false}, "axis": {"values": [0, 30, 60, 90], "format": "d", "title": null}}
 },
 "layer": [
  {"data": {"name": "pts"}, "transform": [{"filter": "datum.p=='P' && datum.g=='10 cm'"}], "mark": {"type": "point", "shape": "circle", "filled": false, "opacity": 1, "size": 280, "strokeWidth": 1.3, "color": "#FA6B61"}},
  {"data": {"name": "pts"}, "transform": [{"filter": "datum.p=='P' && datum.g=='50 cm'"}], "mark": {"type": "point", "shape": "M-1,0L1,0M0,-1L0,1", "filled": false, "opacity": 1, "size": 400, "strokeWidth": 1.3, "color": "#FFC891"}},
  {"data": {"name": "pts"}, "transform": [{"filter": "datum.p=='P' && datum.g=='90 cm'"}], "mark": {"type": "point", "shape": "triangle-down", "filled": false, "opacity": 1, "size": 620, "strokeWidth": 1.3, "color": "#BEBEBE"}},
  {"data": {"name": "lines"}, "transform": [{"filter": "datum.p=='P' && datum.g=='10 cm'"}], "mark": {"type": "line", "color": "#FA6B61", "strokeWidth": 4.5}, "encoding": {}},
  {"data": {"name": "lines"}, "transform": [{"filter": "datum.p=='P' && datum.g=='50 cm'"}], "mark": {"type": "line", "color": "#FFC891", "strokeWidth": 4.2}, "encoding": {}},
  {"data": {"name": "lines"}, "transform": [{"filter": "datum.p=='P' && datum.g=='90 cm'"}], "mark": {"type": "line", "color": "#BEBEBE", "strokeWidth": 3.4}, "encoding": {}},
  {"data": {"name": "labels"}, "transform": [{"filter": "datum.p=='P' && datum.g=='10 cm'"}], "mark": {"type": "text", "fontStyle": "italic", "fontSize": 23, "font": "Liberation Sans", "align": "center", "baseline": "middle", "color": "#FA6B61"}, "encoding": {"text": {"field": "t", "type": "nominal"}}},
  {"data": {"name": "labels"}, "transform": [{"filter": "datum.p=='P' && datum.g=='50 cm'"}], "mark": {"type": "text", "fontStyle": "italic", "fontSize": 23, "font": "Liberation Sans", "align": "center", "baseline": "middle", "color": "#FFC891"}, "encoding": {"text": {"field": "t", "type": "nominal"}}},
  {"data": {"name": "labels"}, "transform": [{"filter": "datum.p=='P' && datum.g=='90 cm'"}], "mark": {"type": "text", "fontStyle": "italic", "fontSize": 23, "font": "Liberation Sans", "align": "center", "baseline": "middle", "color": "#BEBEBE"}, "encoding": {"text": {"field": "t", "type": "nominal"}}}
 ]
},
{
 "title": "Red (655-665 nm)",
 "width": 375, "height": 320,
 "encoding": {
  "x": {"field": "x", "type": "quantitative", "scale": {"domain": [-207, 4362], "nice": false, "zero": false}, "axis": {"values": [0, 1000, 2000, 3000, 4000], "format": "d", "title": "Raw simulated irradiance ( photons m⁻²)", "titleFontSize": 32, "titleX": 207, "titleY": 68, "titleAlign": "center", "titleBaseline": "alphabetic"}},
  "y": {"field": "y", "type": "quantitative", "scale": {"domain": [-0.207, 5.31], "nice": false, "zero": false}, "axis": {"values": [0, 1, 2, 3, 4, 5], "format": "d", "title": null}}
 },
 "layer": [
  {"data": {"name": "pts"}, "transform": [{"filter": "datum.p=='R' && datum.g=='10 cm'"}], "mark": {"type": "point", "shape": "circle", "filled": false, "opacity": 1, "size": 280, "strokeWidth": 1.3, "color": "#FA6B61"}},
  {"data": {"name": "pts"}, "transform": [{"filter": "datum.p=='R' && datum.g=='50 cm'"}], "mark": {"type": "point", "shape": "M-1,0L1,0M0,-1L0,1", "filled": false, "opacity": 1, "size": 400, "strokeWidth": 1.3, "color": "#FFC891"}},
  {"data": {"name": "pts"}, "transform": [{"filter": "datum.p=='R' && datum.g=='90 cm'"}], "mark": {"type": "point", "shape": "triangle-down", "filled": false, "opacity": 1, "size": 620, "strokeWidth": 1.3, "color": "#BEBEBE"}},
  {"data": {"name": "lines"}, "transform": [{"filter": "datum.p=='R' && datum.g=='10 cm'"}], "mark": {"type": "line", "color": "#FA6B61", "strokeWidth": 4.5}, "encoding": {}},
  {"data": {"name": "lines"}, "transform": [{"filter": "datum.p=='R' && datum.g=='50 cm'"}], "mark": {"type": "line", "color": "#FFC891", "strokeWidth": 4.2}, "encoding": {}},
  {"data": {"name": "lines"}, "transform": [{"filter": "datum.p=='R' && datum.g=='90 cm'"}], "mark": {"type": "line", "color": "#BEBEBE", "strokeWidth": 3.4}, "encoding": {}},
  {"data": {"name": "labels"}, "transform": [{"filter": "datum.p=='R' && datum.g=='10 cm'"}], "mark": {"type": "text", "fontStyle": "italic", "fontSize": 23, "font": "Liberation Sans", "align": "center", "baseline": "middle", "color": "#FA6B61"}, "encoding": {"text": {"field": "t", "type": "nominal"}}},
  {"data": {"name": "labels"}, "transform": [{"filter": "datum.p=='R' && datum.g=='50 cm'"}], "mark": {"type": "text", "fontStyle": "italic", "fontSize": 23, "font": "Liberation Sans", "align": "center", "baseline": "middle", "color": "#FFC891"}, "encoding": {"text": {"field": "t", "type": "nominal"}}},
  {"data": {"name": "labels"}, "transform": [{"filter": "datum.p=='R' && datum.g=='90 cm'"}], "mark": {"type": "text", "fontStyle": "italic", "fontSize": 23, "font": "Liberation Sans", "align": "center", "baseline": "middle", "color": "#BEBEBE"}, "encoding": {"text": {"field": "t", "type": "nominal"}}}
 ]
}
]
}
